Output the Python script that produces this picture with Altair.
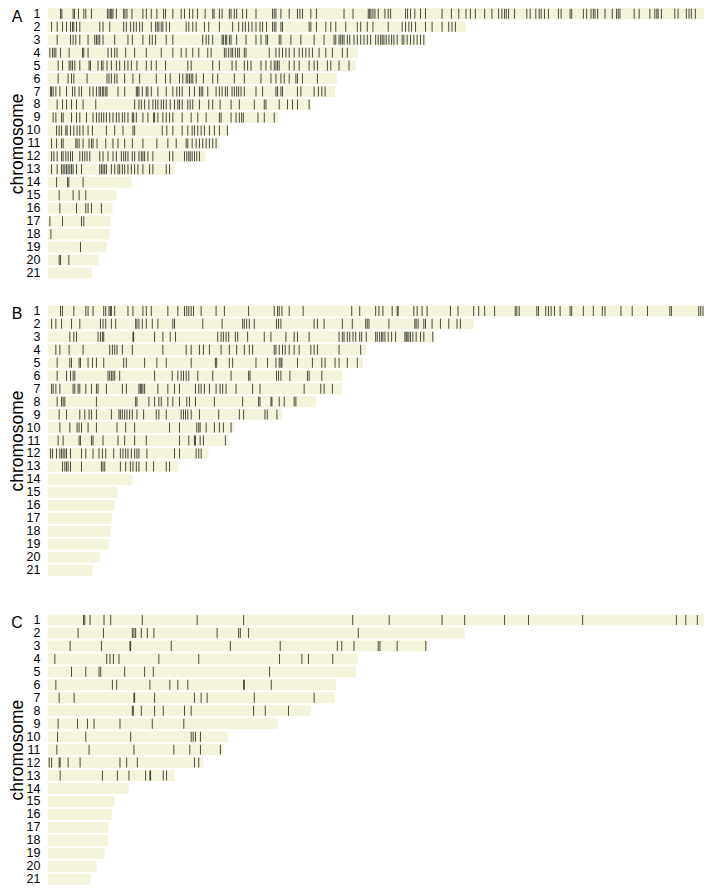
import altair as alt
import pandas as pd

FONT = "Liberation Sans"
BEIGE = "#f4f4dc"
CHROMS = [str(i) for i in range(1, 22)]

# ---------------- Panel A ----------------
A_LEN = [658, 419, 379, 311, 309, 290, 288, 264, 231, 181, 172, 158, 127, 84, 69, 65, 63, 62, 59, 51, 44]
A_TICKS = [
    [12.7, 14, 25.3, 26.7, 30.7, 36, 38, 43.7, 59.7, 61.3, 62.7, 64, 65.3, 68.7, 76, 77.3, 79.3, 84.3, 95.3, 98.7,
     103.7, 109.3, 116, 118, 125.3, 133.7, 137, 142, 145.3, 150, 157.7, 165.3, 166.7, 172, 174.7, 182, 183.7, 187,
     189.3, 195.3, 199.3, 208.7, 225.3, 227, 228.7, 233.7, 242, 250.3, 252.7, 255.3, 263.7, 269.3, 297, 306, 321.3,
     322.7, 324, 326, 328, 331.3, 338, 341.3, 343.7, 358.7, 360.7, 363.7, 368, 373.7, 378.7, 395.3, 404.7, 412,
     419.3, 423.7, 428.7, 438, 445.3, 452, 455.3, 458, 459.7, 462, 468, 480.3, 483.7, 489.3, 492.7, 494.7, 498, 502,
     512, 514.7, 523.7, 525.3, 537, 540.3, 544.7, 547, 548.7, 551.3, 558.7, 566, 570.3, 572, 573.7, 588, 593, 603.7,
     608.7, 610.7, 612, 615.3, 628.7, 632, 640.3, 643, 645.3, 649.3],
    [3.7, 9.3, 14.7, 18.7, 22.7, 24.7, 26, 28.7, 32, 52, 55.3, 62, 76, 78.7, 83, 86, 88.7, 92, 94.7, 103.7, 108,
     109.7, 111.3, 113.7, 115.3, 118.7, 122, 138.7, 141.3, 145.3, 148.7, 157, 161.3, 172, 185.3, 191.3, 195.3, 198,
     201.3, 204.7, 208.7, 212.7, 215.3, 219.3, 225.3, 227, 228.7, 233.7, 235.3, 262, 263.7, 269.3, 278.7, 283.7,
     288.7, 298.7, 310.3, 313.7, 320.3, 326, 341.3, 355.3, 358.7, 362, 364.7, 368.7, 378.7, 385.3, 395.3, 402, 405.3,
     408.7],
    [9.3, 22.7, 25.3, 28, 32, 40.3, 47, 48.7, 50.3, 52, 55.3, 67, 80.3, 84.7, 95.3, 102, 104.7, 108, 118.7, 125.3,
     155.3, 158.7, 161.3, 165.3, 174.7, 176, 178, 179.3, 182, 183.7, 189.3, 198.7, 208.7, 213.7, 218.7, 220.3, 232,
     233.7, 243.7, 253.7, 267, 277, 287, 288.7, 292, 293.7, 295.3, 297, 300.3, 302.7, 307, 310.3, 313.7, 317, 320.3,
     323.7, 328.7, 331.3, 333.7, 335.3, 337, 339.3, 342, 344.7, 347, 350.3, 355.3, 357, 360.3, 363.7, 367, 370.3,
     373.7, 377],
    [2, 4.7, 6.3, 8, 12.7, 21.3, 34.7, 36, 40.3, 60.3, 63.7, 67, 69.3, 78, 87, 98.7, 113.7, 125.3, 133.7, 138.7,
     145.3, 151.3, 160.3, 163.7, 177, 178.7, 181.3, 183.7, 185.3, 188, 190.3, 192, 197, 198.7, 222, 228.7, 232, 235.3,
     238.7, 242, 247, 252, 255.3, 258.7, 262, 265.3, 272, 278.7, 285.3, 295.3, 300.3],
    [10.3, 14.7, 21.3, 23, 24.7, 27, 32, 41.3, 42.7, 50.3, 53.7, 55.3, 59.3, 63.7, 68.7, 72, 77, 80.3, 83.7, 89.3,
     98.7, 103.7, 108.7, 118, 140.3, 143.7, 165.3, 172, 184.7, 188.7, 197, 200.3, 203.7, 213.7, 218.7, 223.7, 227,
     228.7, 230.3, 232, 242, 247, 252, 262, 267, 270.3, 280.3, 283.7, 292, 302],
    [10.3, 20.3, 23.7, 26, 39.3, 59.3, 61.3, 63.7, 67, 69.3, 77, 85.3, 92, 108.7, 118, 122.7, 132, 135.3, 138.7,
     140.3, 142, 143.7, 145.3, 148.7, 156, 165.3, 170.3, 187, 197, 213.7, 223.7, 228.7, 233.7, 237, 242, 248.7, 250.3,
     255.3, 270.3],
    [2.7, 3.7, 5.3, 8, 12, 18.7, 24.7, 27, 31.3, 33.7, 42, 45.3, 48.7, 51.3, 52.7, 54.7, 56, 58, 59.3, 70.3, 77, 88.7,
     90, 91.3, 94.7, 98.7, 100.3, 103.7, 110.3, 118.7, 125.3, 129.3, 132, 134.7, 142, 147, 152, 153.7, 155.3, 160.3,
     168.7, 172, 174.7, 178, 180, 184.7, 187, 189.3, 191.3, 193.7, 197, 208.7, 215.3, 228.7, 230.3, 233.7, 235.3,
     250.3, 253.7, 267, 271.3, 274.7, 278],
    [9.3, 14.7, 18.7, 23.7, 28.7, 35.3, 48, 87, 91.3, 93.7, 97, 101.3, 105.3, 108, 110.3, 113.7, 116, 118.7, 122.7,
     127, 130.3, 132, 134.7, 140.3, 142.7, 145.3, 152, 161.3, 165.3, 172.7, 183.7, 192, 207, 217, 218.7, 232, 240.3,
     245.3, 250.3, 262],
    [5.3, 8, 13.7, 15.3, 23.7, 28.7, 32, 38.7, 45.3, 48.7, 51.3, 53.7, 56, 58.7, 62, 65.3, 68.7, 71.3, 74.7, 77, 80.3,
     84.7, 86, 88.7, 95.3, 100.3, 106, 107, 110.3, 115.3, 118.7, 122, 125.3, 134.7, 143.7, 150.3, 158.7, 172, 173.7,
     183.7, 188.7, 192, 194.3, 196, 210.7, 217, 227],
    [8.7, 11.3, 13.7, 18, 19.3, 22.7, 26, 29.3, 32, 35.3, 40.3, 44.7, 58.7, 67, 75.3, 85.3, 87, 114.7, 119.3, 125.3,
     134.7, 140.3, 144.7, 147, 150.3, 153.7, 157, 162, 167, 172, 180],
    [3.7, 8.7, 13.7, 15.3, 28, 29.3, 31.3, 35.3, 41.3, 43.7, 45.3, 49.3, 58, 65.3, 70.3, 77, 84.7, 95.3, 109.3, 120.3,
     128.7, 138.7, 140.3, 144.7, 148.7, 152, 155.3, 158.7, 162, 165.3, 168.7],
    [3.7, 6, 9.3, 13.7, 15.3, 18, 20.3, 22.7, 24.7, 32, 34.7, 37, 39.3, 42, 52, 55.3, 60.3, 65.3, 68.7, 73.7, 76, 78,
     80.3, 84.7, 87, 91.3, 93.7, 95.3, 97, 100.3, 105.3, 122, 125.3, 137, 139.3, 141.3, 142.7, 144.7, 147, 149.3, 152],
    [3.7, 9.3, 13.7, 15.3, 17, 18.7, 20.3, 22, 23.7, 25.3, 28.7, 33.7, 52, 53.7, 55.3, 57, 58.7, 63.7, 67, 70.3, 72,
     74.7, 77, 80.3, 83.7, 87, 90.3, 95.3, 102, 105.3, 118.7, 122],
    [8.7, 19.7, 21, 35.3],
    [11.3, 25.3, 31.3, 38],
    [12, 28.7, 38, 40.3, 43.7, 53.7],
    [2, 14.7, 33.7, 36],
    [3],
    [32.7],
    [11.3, 12.7, 21],
    [],
]

# ---------------- Panel B ----------------
B_LEN = [658, 427, 388, 319, 316, 295, 295, 269, 235, 187, 182, 161, 131, 85, 70, 67, 64, 63, 61, 52, 45]
B_TICKS = [
    [12.7, 14.7, 26, 38, 40.3, 45.3, 56, 58, 61.3, 62.7, 63.7, 67, 80.3, 85.3, 95.3, 98.7, 103.7, 120.3, 130.3, 137,
     139.3, 141.3, 143.7, 146, 153.7, 168.7, 177, 201.3, 227, 230.3, 232, 234.7, 242, 256, 304.7, 312.7, 328.7, 332,
     336, 345.3, 350.3, 351.3, 367, 370.3, 375.3, 380.3, 403.7, 411.3, 427, 432, 438, 448, 468.7, 470.3, 472.7, 490.3,
     492, 499.3, 502, 504.7, 508, 513.7, 523.7, 525.3, 537, 547, 556, 558.7, 574.7, 586, 601.3, 623.7, 625.3, 652.7,
     654.7, 657],
    [3.7, 8, 13.7, 23.7, 32, 52.7, 55.3, 58, 63.7, 68, 88, 89.3, 91.3, 94.7, 98.7, 104.7, 110.3, 125.3, 127, 155.3,
     174.7, 195.3, 197, 199.3, 202, 207, 229.3, 231.3, 233.7, 267, 270.3, 277, 295.3, 305.3, 318.7, 320.3, 322, 342,
     368, 369.3, 371.3, 377, 378.7, 385.3, 393.7, 402, 410.3, 413.7],
    [22, 26, 28.7, 50.3, 52.7, 54.7, 56, 85.3, 86, 107, 115.3, 122.7, 128, 170.3, 173.7, 176, 178.7, 181.3, 188,
     190.3, 200.3, 217, 223.7, 238.7, 247, 250.3, 262, 292, 295.3, 297, 300.3, 302.7, 306, 308.7, 312.7, 314.7, 319.3,
     328.7, 330.3, 332.7, 334.7, 336, 338, 341.3, 344.7, 348.7, 358, 359.3, 360.3, 362, 363.7, 366, 369.3, 373.7, 377,
     386],
    [8, 12, 21.3, 35.3, 62, 64.7, 67, 69.3, 74.7, 84.7, 115.3, 138.7, 143.7, 152, 156, 162, 173.7, 182, 189.3, 197,
     202, 205.3, 227, 228.7, 232, 235.3, 238, 242, 247, 252, 263.7, 267, 270.3, 292, 313.7],
    [9.3, 22, 23.7, 31.3, 32.7, 40.3, 44.7, 48.7, 56, 76, 78.7, 97, 109.3, 118.7, 143.7, 168, 169.3, 182, 185.3,
     208.7, 220.3, 228.7, 232, 233.7, 234.7, 250.3, 265.3, 274.7, 278, 288, 292, 300.3, 310.3],
    [9.3, 18.7, 22.7, 25.3, 27, 60.3, 62, 63.7, 65.3, 67, 72, 107, 124.7, 130.3, 133.7, 136, 138.7, 141.3, 150.3,
     165.3, 183.7, 201.3, 202.7, 229.3, 231.3, 233.7, 242.7, 260.3, 262, 274.7],
    [3.7, 5.3, 8, 12, 25.3, 27, 30.3, 32, 38, 43.7, 48.7, 50.3, 58.7, 74.7, 78.7, 91.3, 92.7, 93.7, 95.3, 97, 110.3,
     120.3, 127, 132, 148, 151.3, 153.7, 157, 162, 168.7, 172.7, 175.3, 178.7, 188.7, 205.3, 212.7, 257, 273.7, 277,
     285.3],
    [9.3, 13.7, 15.3, 17, 48.7, 88, 89.3, 101.3, 107, 111.3, 113.7, 120.3, 125.3, 132, 139.3, 142, 148, 167, 195.3,
     211.3, 212.7, 223.7, 224.7, 232, 237, 247, 248.7],
    [11.3, 18.7, 32, 37, 41.3, 43.7, 48.7, 63.7, 71.3, 72.7, 74.7, 77, 79.3, 82, 84.7, 89.3, 96, 108.7, 111.3, 118.7,
     133.7, 136, 138, 140.3, 143.7, 152, 171.3, 192, 196.3, 217.7, 220, 229.7],
    [12, 22, 29.3, 31.3, 33.7, 40.3, 48.7, 69.3, 78, 87, 122, 132, 149.3, 151.3, 152.7, 158.7, 167, 172, 176, 183.7],
    [10.3, 15.3, 31.3, 32.7, 43.7, 45.3, 55.3, 70.3, 77, 87, 98.7, 132, 141.3, 147, 148, 152.7, 156, 178],
    [2.7, 4.7, 8.7, 12, 13.7, 15.3, 17, 18.7, 22.7, 33.7, 38, 45.3, 51.3, 54.7, 58, 66, 72.7, 75.3, 78, 80.3, 83.7,
     87, 89.3, 91.3, 99.3, 127, 132, 148.7, 151.3, 153.7],
    [14.7, 17, 18.7, 20.3, 22.7, 33.7, 53.7, 55.3, 57, 72.7, 78, 82.7, 85.3, 88.7, 91.3, 98.7, 106, 118.7, 122],
    [], [], [], [], [], [], [], [],
]

# ---------------- Panel C ----------------
C_LEN = [658, 418, 381, 311, 309, 289, 288, 264, 231, 181, 176, 156, 127, 81, 67, 64, 61, 60, 57, 49, 43]
C_TICKS = [
    [35.7, 37, 42.3, 56.3, 63, 94.7, 149.7, 196.3, 305.7, 342.3, 395.3, 418, 458, 482, 536.3, 630.3, 639.7, 651.3],
    [30.3, 55.7, 84.7, 86.3, 88, 93.7, 99.7, 106.3, 169.7, 191.3, 193, 201.3, 311.3],
    [22.3, 53.7, 82.3, 83, 123.7, 183, 233, 290.3, 294.7, 307, 331.3, 333, 350.3, 379],
    [7, 59, 62.3, 65.7, 71.3, 111.3, 151.3, 232.3, 254.7, 261.3, 285.7],
    [23.7, 38, 51.3, 53, 77, 97, 105.7, 222.3],
    [8, 64.7, 69, 102.3, 122.3, 130.3, 140.3, 196.3, 197, 224],
    [11.3, 26.3, 86.3, 87, 107, 147, 153.7, 159.7, 207, 267],
    [84.7, 85.7, 93.7, 107, 115.7, 137, 143.7, 206.3, 218, 241.3],
    [10.3, 29.7, 39.7, 46.3, 72.3, 104.7, 136.3],
    [9.7, 38, 83, 143.7, 145.7, 148, 153],
    [9, 41.3, 86.3, 126.3, 142.3, 153, 173],
    [1.3, 3.7, 11.3, 12.3, 20.3, 32.3, 72.3, 79, 89.7, 147, 151.3],
    [12.3, 54.7, 69.7, 81.3, 98, 102.3, 103, 115.7, 119],
    [], [], [], [], [], [], [], [],
]

XMAX = 658


def panel(letter, lengths, ticks):
    bars_df = pd.DataFrame({"chrom": CHROMS, "length": lengths})
    rows = [(c, p) for c, ps in zip(CHROMS, ticks) for p in ps]
    ticks_df = pd.DataFrame(rows, columns=["chrom", "pos"])
    lab_df = pd.DataFrame({"chrom": ["1"], "lab": [letter]})

    xs = alt.Scale(domain=[0, XMAX], nice=False, zero=True)
    ys = alt.Scale(domain=CHROMS, paddingInner=0.15, paddingOuter=0.075)
    yax = alt.Axis(title="chromosome", titleFontSize=17.5, labelFontSize=12.5, domain=False, ticks=False,
                   labelPadding=8, titlePadding=0, labelColor="black", titleColor="black",
                   titleFontWeight="normal", labelFont=FONT, titleFont=FONT)
    y = alt.Y("chrom:N", scale=ys, axis=yax, sort=CHROMS)

    bars = alt.Chart(bars_df).mark_bar(color=BEIGE).encode(
        x=alt.X("length:Q", scale=xs, axis=None), y=y)
    tk = alt.Chart(ticks_df).mark_tick(color="black", opacity=0.7, thickness=1, size=10).encode(
        x=alt.X("pos:Q", scale=xs, axis=None), y=y)
    lab = alt.Chart(lab_df).mark_text(fontSize=16, font=FONT, align="center", baseline="middle",
                                      dy=3, color="black").encode(
        x=alt.value(-31), y=y, text="lab:N")
    return alt.layer(bars, tk, lab).properties(width=658, height=273)


pa = panel("A", A_LEN, A_TICKS)
pb = panel("B", B_LEN, B_TICKS)
pc = panel("C", C_LEN, C_TICKS)

chart = alt.vconcat(alt.vconcat(pa, pb, spacing=24), pc, spacing=36).properties(
    padding={"left": 0, "top": -3, "right": 0, "bottom": 0}
).configure_view(stroke=None)

chart.save("out.html", embed_options={"renderer": "svg", "actions": False})
